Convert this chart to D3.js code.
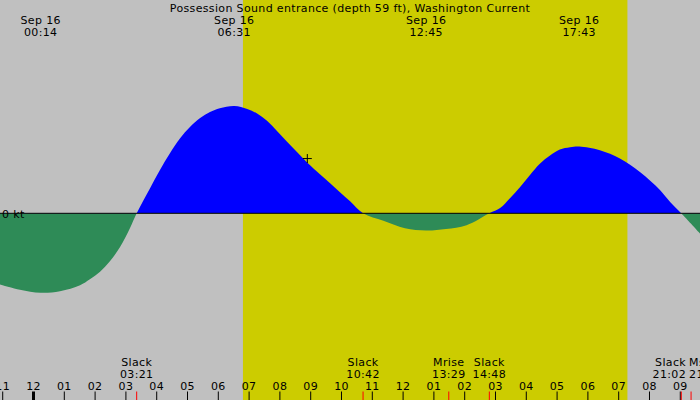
<!DOCTYPE html>
<html>
<head>
<meta charset="utf-8">
<title>Possession Sound entrance current</title>
<script src="https://cdn.jsdelivr.net/npm/d3@7"></script>
<style>
  body { margin: 0; background: #c0c0c0; }
  svg { display: block; }
  text { font-family: "DejaVu Sans", sans-serif; font-size: 11px; letter-spacing: 0.35px; fill: #000; }
</style>
</head>
<body>
<div id="chart"></div>
<script>
// hours after Sep 16 00:00, and current speed in knots (flood +, ebb -)
var curveHours = [-1.09, -0.44, 0.23, 0.86, 1.51, 1.83, 2.16, 2.48, 2.81, 3.13, 3.35,
  3.78, 4.11, 4.43, 4.76, 5.08, 5.41, 5.73, 6.05, 6.52, 6.94, 7.26, 7.59, 7.92, 8.24, 8.57, 8.90,
  9.30, 9.63, 9.95, 10.28, 10.70, 11.36, 12.06, 12.75, 13.39, 14.06, 14.80,
  15.15, 15.47, 15.80, 16.12, 16.44, 16.77, 17.09, 17.42, 17.72, 18.39, 19.04, 19.69, 20.34, 20.67, 21.03, 21.64];
var curveKnots = [-0.95, -1.02, -1.06, -1.04, -0.96, -0.88, -0.78, -0.64, -0.45, -0.20, 0,
  0.33, 0.58, 0.80, 1.00, 1.15, 1.27, 1.35, 1.40, 1.43, 1.39, 1.33, 1.23, 1.09, 0.95, 0.81, 0.67,
  0.52, 0.40, 0.28, 0.16, 0, -0.10, -0.20, -0.23, -0.21, -0.16, 0,
  0.07, 0.20, 0.35, 0.51, 0.66, 0.77, 0.85, 0.88, 0.89, 0.84, 0.73, 0.55, 0.31, 0.15, 0, -0.27];

// max flood / ebb times shown along the top
var maxDates = ["Sep 16", "Sep 16", "Sep 16", "Sep 16"];
var maxTimes = ["00:14", "06:31", "12:45", "17:43"];

// events along the bottom
var eventNames = ["Slack", "Slack", "Mrise", "Slack", "Slack", "Mset"];
var eventTimes = ["03:21", "10:42", "13:29", "14:48", "21:02", "21:21"];

var sunrise = "06:48", sunset = "19:17";
var nowTime = 8.89, nowKnots = 0.73;
var hourTicks = d3.range(-1, 22);

var width = 700, height = 400;
var title = "Possession Sound entrance (depth 59 ft), Washington Current";

function toHours(s) {
  var p = s.split(":");
  return +p[0] + (+p[1]) / 60;
}

var x = d3.scaleLinear().domain([-1.088, 21.64]).range([0, width]);
var y = d3.scaleLinear().domain([-1.5, 1.5]).range([325.8, 100.8]);

var svg = d3.select("#chart").append("svg")
  .attr("width", width)
  .attr("height", height);

// night background and daylight band
svg.append("rect").attr("width", width).attr("height", height).attr("fill", "#c0c0c0");
svg.append("rect")
  .attr("x", x(toHours(sunrise)))
  .attr("width", x(toHours(sunset)) - x(toHours(sunrise)))
  .attr("height", height)
  .attr("fill", "#cccc00");

var data = curveHours.map(function(h, i) { return {h: h, v: curveKnots[i]}; });

var area = d3.area()
  .x(function(d) { return x(d.h); })
  .y0(y(0))
  .y1(function(d) { return y(d.v); })
  .curve(d3.curveCatmullRom.alpha(0.5));

var defs = svg.append("defs");
defs.append("clipPath").attr("id", "above")
  .append("rect").attr("x", 0).attr("y", 0).attr("width", width).attr("height", y(0));
defs.append("clipPath").attr("id", "below")
  .append("rect").attr("x", 0).attr("y", y(0)).attr("width", width).attr("height", height - y(0));

svg.append("path").datum(data).attr("d", area)
  .attr("fill", "#0000ff").attr("clip-path", "url(#above)");
svg.append("path").datum(data).attr("d", area)
  .attr("fill", "#2e8b57").attr("clip-path", "url(#below)");

// zero line
svg.append("line")
  .attr("x1", 0).attr("x2", width)
  .attr("y1", y(0)).attr("y2", y(0))
  .attr("stroke", "#000").attr("stroke-width", 1);

svg.append("text").attr("x", 2).attr("y", y(0) + 4.5).text("0 kt");

// title
svg.append("text")
  .attr("x", width / 2).attr("y", 11.5)
  .attr("text-anchor", "middle")
  .text(title);

// max labels at top
maxTimes.forEach(function(t, i) {
  var cx = x(toHours(t));
  svg.append("text").attr("x", cx).attr("y", 24).attr("text-anchor", "middle").text(maxDates[i]);
  svg.append("text").attr("x", cx).attr("y", 36).attr("text-anchor", "middle").text(t);
});

// hour axis along the bottom
var axis = svg.append("g");
hourTicks.forEach(function(h) {
  var hh = ((h % 12) + 12) % 12;
  if (hh === 0) hh = 12;
  var isMidnight = ((h % 24) + 24) % 24 === 0;
  axis.append("line")
    .attr("x1", x(h)).attr("x2", x(h))
    .attr("y1", 391.5).attr("y2", height)
    .attr("stroke", "#000")
    .attr("stroke-width", isMidnight ? 3 : 1);
  axis.append("text")
    .attr("x", x(h)).attr("y", 389.5)
    .attr("text-anchor", "middle")
    .text(d3.format("02")(hh));
});

// event ticks and labels
eventTimes.forEach(function(t) {
  var ex = x(toHours(t));
  svg.append("line")
    .attr("x1", ex).attr("x2", ex)
    .attr("y1", 391.5).attr("y2", height)
    .attr("stroke", "#ff0000").attr("stroke-width", 1);
});

var labelX = eventTimes.map(function(t) { return x(toHours(t)); });
var anchors = eventTimes.map(function() { return "middle"; });
// last two labels crowd the right edge: moonset starts at its tick, slack ends before it
var last = eventTimes.length - 1;
labelX[last] = labelX[last] - 2;
anchors[last] = "start";
labelX[last - 1] = labelX[last] - 3;
anchors[last - 1] = "end";

eventTimes.forEach(function(t, i) {
  svg.append("text").attr("x", labelX[i]).attr("y", 366).attr("text-anchor", anchors[i]).text(eventNames[i]);
  svg.append("text").attr("x", labelX[i]).attr("y", 378).attr("text-anchor", anchors[i]).text(t);
});

// current time marker
var px = x(nowTime), py = y(nowKnots);
svg.append("path")
  .attr("d", "M" + (px - 4.5) + "," + py + "H" + (px + 4.5) + "M" + px + "," + (py - 4.5) + "V" + (py + 4.5))
  .attr("stroke", "#000").attr("stroke-width", 1).attr("fill", "none");
</script>
</body>
</html>
